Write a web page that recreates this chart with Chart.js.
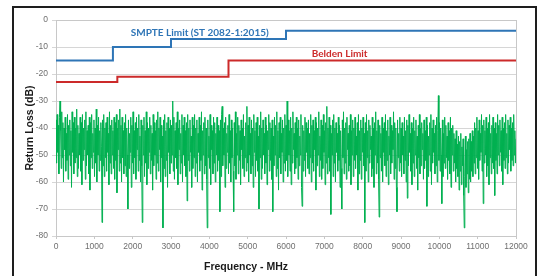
<!DOCTYPE html>
<html>
<head>
<meta charset="utf-8">
<script src="https://cdn.jsdelivr.net/npm/chart.js@4/dist/chart.umd.min.js"></script>
<style>
  html, body { margin: 0; padding: 0; background: #fff; overflow: hidden; }
  #wrap { position: relative; width: 543px; height: 276px; }
  #frame { position: absolute; left: 12px; top: 6px; width: 521px; height: 300px; border: 2px solid #1e1e1e; pointer-events: none; }
  canvas { position: absolute; left: 0; top: 0; }
</style>
</head>
<body>
<div id="wrap">
  <canvas id="rlChart" width="543" height="276"></canvas>
  <div id="frame"></div>
</div>
<script>
// Return loss sweep vs. SMPTE / Belden limits

// limit lines (step points, MHz / dB)
const smpteFreq = [0, 1485, 3000, 6000, 12000];
const smpteLoss = [-15, -10, -7, -4, -4];
const beldenFreq = [0, 1600, 4500, 12000];
const beldenLoss = [-23, -21, -15, -15];

// measured trace: sweep from 0 MHz, one reading every 15 MHz
const sweepStart = 0;
const sweepStep = 15;
const measuredLoss = [
  -37,-53,-35,-49,-39,-57,-36,-30,-41,-55,-34,-51,-38,-60,-40,-48,-36,-56,-42,-52,
  -35,-59,-39,-50,-37,-54,-41,-62,-34,-49,-38,-57,-36,-53,-40,-51,-33,-58,-39,-55,
  -42,-50,-36,-56,-38,-61,-35,-52,-40,-48,-37,-59,-34,-54,-41,-50,-39,-57,-36,-63,
  -38,-51,-35,-55,-42,-49,-37,-58,-40,-53,-33,-60,-39,-50,-36,-56,-41,-52,-38,-47,
  -75,-37,-54,-35,-58,-40,-51,-38,-56,-36,-49,-42,-61,-34,-53,-39,-57,-37,-50,-41,
  -55,-36,-59,-38,-52,-35,-64,-40,-48,-37,-56,-33,-53,-39,-60,-36,-51,-41,-57,-38,
  -54,-35,-58,-40,-50,-70,-37,-55,-42,-49,-36,-62,-39,-53,-34,-57,-41,-51,-38,-59,
  -36,-48,-40,-56,-35,-52,-43,-60,-37,-54,-75,-39,-50,-36,-58,-41,-53,-34,-61,-38,
  -55,-40,-49,-36,-57,-39,-52,-42,-63,-35,-54,-38,-50,-41,-59,-37,-53,-34,-56,-40,
  -48,-36,-60,-39,-51,-43,-77,-37,-55,-35,-58,-41,-52,-38,-62,-36,-49,-40,-57,-37,
  -53,-39,-50,-30,-56,-36,-59,-41,-51,-38,-55,-34,-61,-40,-48,-37,-57,-42,-53,-35,
  -60,-39,-50,-36,-54,-41,-58,-38,-67,-35,-52,-40,-56,-37,-49,-43,-62,-36,-55,-39,
  -51,-35,-58,-40,-53,-37,-60,-42,-49,-36,-56,-39,-52,-34,-63,-41,-50,-38,-57,-36,
  -54,-40,-59,-77,-37,-51,-43,-55,-35,-61,-39,-48,-41,-57,-36,-53,-38,-60,-42,-50,
  -36,-56,-39,-52,-41,-71,-37,-58,-35,-32,-54,-40,-50,-38,-62,-36,-55,-42,-49,-39,
  -57,-35,-53,-41,-60,-37,-51,-40,-56,-71,-38,-54,-34,-59,-42,-50,-36,-57,-39,-52,
  -41,-61,-37,-48,-40,-55,-35,-58,-43,-51,-38,-56,-32,-53,-39,-60,-36,-50,-42,-57,
  -37,-54,-40,-62,-35,-49,-41,-58,-38,-52,-36,-56,-43,-70,-39,-51,-34,-59,-40,-55,
  -37,-50,-42,-57,-36,-53,-39,-61,-41,-48,-35,-56,-38,-52,-40,-59,-37,-71,-43,-54,
  -36,-50,-39,-58,-34,-55,-41,-63,-38,-51,-36,-57,-42,-49,-37,-60,-40,-53,-35,-56,
  -39,-52,-30,-58,-37,-50,-41,-56,-36,-61,-40,-53,-34,-48,-42,-57,-38,-55,-36,-51,
  -40,-59,-37,-54,-43,-50,-35,-62,-69,-39,-56,-41,-52,-36,-58,-38,-49,-40,-55,-37,
  -57,-42,-51,-35,-60,-39,-53,-37,-56,-41,-48,-36,-63,-38,-54,-40,-50,-34,-58,-43,
  -52,-37,-59,-39,-55,-35,-49,-41,-61,-38,-53,-32,-57,-40,-51,-36,-56,-39,-72,-42,
  -50,-37,-58,-35,-53,-40,-60,-38,-49,-42,-56,-36,-52,-39,-62,-41,-55,-70,-37,-51,
  -34,-57,-40,-53,-38,-59,-36,-48,-42,-56,-39,-54,-35,-61,-41,-50,-37,-58,-40,-52,
  -36,-55,-43,-50,-38,-63,-35,-57,-41,-52,-37,-59,-40,-49,-36,-54,-42,-75,-38,-56,
  -35,-51,-41,-60,-37,-53,-39,-48,-43,-58,-36,-55,-40,-62,-38,-50,-34,-57,-41,-53,
  -37,-59,-73,-39,-51,-42,-56,-36,-60,-40,-49,-38,-54,-35,-58,-41,-52,-37,-61,-43,
  -50,-36,-57,-39,-53,-41,-48,-34,-59,-38,-55,-40,-62,-71,-37,-51,-42,-56,-36,-53,
  -40,-58,-38,-50,-43,-57,-36,-52,-41,-60,-37,-66,-39,-54,-35,-49,-42,-56,-38,-61,
  -40,-53,-36,-58,-41,-50,-37,-55,-43,-63,-39,-51,-35,-57,-40,-54,-38,-48,-42,-59,
  -37,-55,-41,-52,-36,-69,-39,-58,-43,-50,-38,-56,-35,-61,-40,-53,-37,-49,-42,-57,
  -39,-54,-36,-60,-41,-28,-52,-38,-56,-40,-50,-68,-37,-58,-42,-53,-36,-55,-39,-51,
  -43,-59,-38,-52,-41,-57,-36,-62,-40,-50,-39,-56,-42,-53,-44,-60,-41,-55,-46,-58,
  -43,-63,-45,-56,-42,-61,-47,-54,-44,-65,-77,-58,-43,-62,-48,-57,-45,-64,-44,-59,
  -42,-60,-45,-56,-41,-58,-43,-53,-38,-57,-40,-51,-36,-55,-41,-59,-37,-52,-42,-49,
  -35,-56,-39,-68,-37,-53,-41,-50,-36,-58,-40,-54,-38,-61,-35,-51,-42,-57,-39,-53,
  -36,-55,-40,-65,-38,-52,-42,-57,-35,-50,-39,-54,-37,-49,-41,-56,-36,-61,-40,-52,
  -38,-55,-35,-51,-42,-57,-37,-53,-39,-48,-36,-56,-40,-52,-38,-54,-35,-50,-41,-53,
  -44
];

// axis ticks
const xTickMin = 0, xTickMax = 12000, xTickStep = 1000;
const yTickMin = -80, yTickMax = 0, yTickStep = 10;

// text labels
const smpteLabel = 'SMPTE Limit (ST 2082-1:2015)';
const beldenLabel = 'Belden Limit';
const smpteLabelAt = [3750, -4.8];
const beldenLabelAt = [7400, -12.4];

const toPoints = (xs, ys) => xs.map((x, i) => ({ x: x, y: ys[i] }));
const measuredPoints = measuredLoss.map((v, i) => ({ x: sweepStart + i * sweepStep, y: v }));

const plotFrame = {
  id: 'plotFrame',
  beforeDatasetsDraw(chart) {
    const { ctx, chartArea: a } = chart;
    ctx.save();
    ctx.strokeStyle = '#c8c8c8';
    ctx.lineWidth = 1;
    ctx.strokeRect(a.left + 0.5, a.top + 0.5, a.right - a.left, a.bottom - a.top);
    ctx.restore();
  }
};

const limitLabels = {
  id: 'limitLabels',
  afterDatasetsDraw(chart) {
    const { ctx, scales } = chart;
    ctx.save();
    ctx.font = 'bold 10px Lato, "Open Sans", sans-serif';
    ctx.textAlign = 'center';
    ctx.textBaseline = 'middle';
    ctx.fillStyle = '#2e75b6';
    ctx.fillText(smpteLabel, scales.x.getPixelForValue(smpteLabelAt[0]), scales.y.getPixelForValue(smpteLabelAt[1]));
    ctx.fillStyle = '#cc2a2a';
    ctx.fillText(beldenLabel, scales.x.getPixelForValue(beldenLabelAt[0]), scales.y.getPixelForValue(beldenLabelAt[1]));
    // x axis title sits left of centre in the original
    ctx.font = 'bold 10.5px "Liberation Sans", Arial, sans-serif';
    ctx.fillStyle = '#1a1a1a';
    ctx.textAlign = 'left';
    ctx.fillText('Frequency - MHz', 204, 267);
    ctx.restore();
  }
};

new Chart(document.getElementById('rlChart'), {
  type: 'line',
  data: {
    datasets: [
      { label: 'SMPTE', data: toPoints(smpteFreq, smpteLoss), borderColor: '#2e75b6', borderWidth: 2, stepped: 'before', pointRadius: 0, order: 1 },
      { label: 'Belden', data: toPoints(beldenFreq, beldenLoss), borderColor: '#cc2a2a', borderWidth: 2, stepped: 'before', pointRadius: 0, order: 2 },
      { label: 'Measured', data: measuredPoints, borderColor: '#00b050', borderWidth: 1, pointRadius: 0, tension: 0, order: 3 }
    ]
  },
  options: {
    responsive: false,
    animation: false,
    layout: { padding: { left: 20, top: 20, right: 27, bottom: 0 } },
    plugins: { legend: { display: false }, tooltip: { enabled: false } },
    scales: {
      x: {
        type: 'linear', min: xTickMin, max: xTickMax,
        afterFit(scale) { scale.height = 40; },
        ticks: {
          stepSize: xTickStep, maxRotation: 0, autoSkip: false, padding: 3, color: '#6f6f6f',
          font: { size: 8.5, family: '"Liberation Sans", Arial, sans-serif' },
          callback: (v) => String(v)
        },
        grid: { drawOnChartArea: false, tickLength: 3, color: '#c8c8c8' },
        border: { color: '#c8c8c8' }
      },
      y: {
        min: yTickMin, max: yTickMax,
        afterFit(scale) { scale.width = 36; },
        ticks: { stepSize: yTickStep, padding: 4, color: '#6f6f6f', font: { size: 8.5, family: '"Liberation Sans", Arial, sans-serif' } },
        grid: { color: '#d6d6d6', tickLength: 4 },
        border: { color: '#c8c8c8' },
        title: { display: true, text: 'Return Loss (dB)', color: '#1a1a1a', padding: { top: 4, bottom: 4 }, font: { size: 10.5, weight: 'bold', family: '"Liberation Sans", Arial, sans-serif' } }
      }
    }
  },
  plugins: [plotFrame, limitLabels]
});
</script>
</body>
</html>
